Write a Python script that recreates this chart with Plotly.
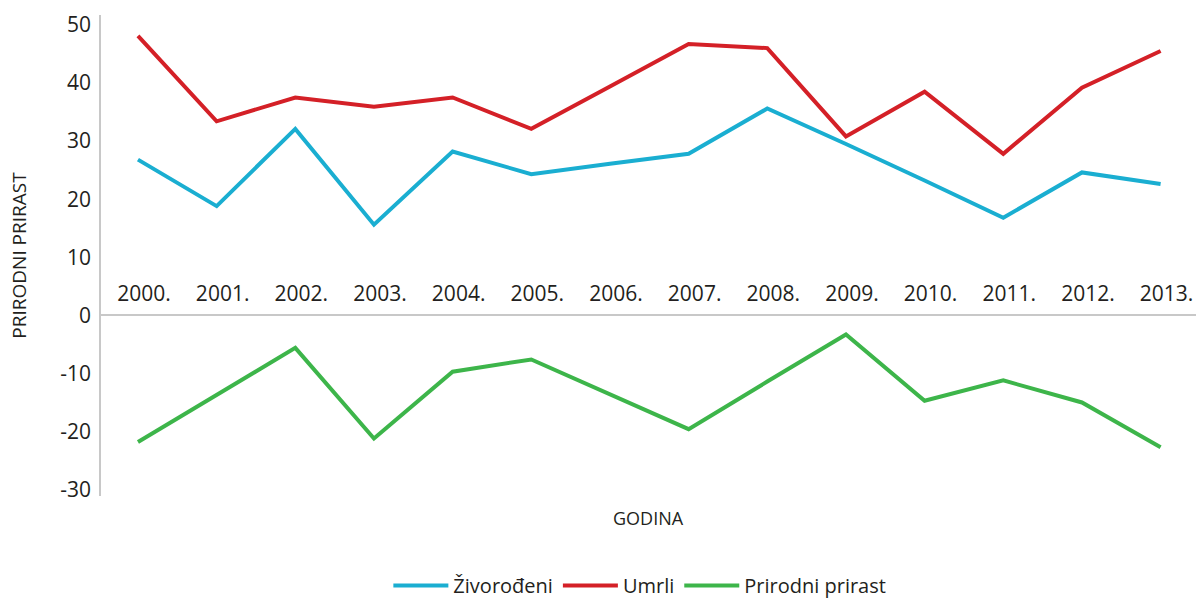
import plotly.graph_objects as go

years = ["2000.", "2001.", "2002.", "2003.", "2004.", "2005.", "2006.",
         "2007.", "2008.", "2009.", "2010.", "2011.", "2012.", "2013."]
zivorodjeni = [26.8, 18.8, 32.1, 15.6, 28.2, 24.3, 26.1, 27.8, 35.6, 29.5, 23.2, 16.8, 24.6, 22.6]
umrli = [48.1, 33.4, 37.5, 35.9, 37.5, 32.1, 39.4, 46.7, 46.0, 30.8, 38.5, 27.8, 39.2, 45.5]
prirodni_prirast = [-21.8, -13.7, -5.6, -21.2, -9.7, -7.6, -13.6, -19.6, -11.4, -3.3, -14.7, -11.2, -15.0, -22.7]
y_ticks = [-30, -20, -10, 0, 10, 20, 30, 40, 50]
y_tick_labels = ["-30", "-20", "-10", "0", "10", "20", "30", "40", "50"]

series = [
    ("Živorođeni", zivorodjeni, "#1aaed1"),
    ("Umrli", umrli, "#d42027"),
    ("Prirodni prirast", prirodni_prirast, "#3db54a"),
]

FONT = "Open Sans"
TXT = "#231f20"

fig = go.Figure()
xs = list(range(len(years)))
for name, vals, color in series:
    fig.add_trace(go.Scatter(x=xs, y=vals, mode="lines", name=name,
                             line=dict(color=color, width=4)))

ymin, ymax = -31.1, 51.7
zero_pos = (0 - ymin) / (ymax - ymin)

fig.update_layout(
    width=1196, height=598,
    margin=dict(l=101, r=0, t=15, b=102),
    paper_bgcolor="white", plot_bgcolor="white",
    font=dict(family=FONT, color=TXT, size=18),
    showlegend=True,
    legend=dict(orientation="h", xref="container", yref="container",
                x=0.535, xanchor="center", y=1 - 566 / 598, yanchor="top",
                itemwidth=55,
                font=dict(size=20, family=FONT, color=TXT)),
    xaxis=dict(
        range=[-0.47, 13.45],
        tickmode="array", tickvals=xs, ticktext=years,
        side="top", anchor="free", position=zero_pos,
        showline=True, linecolor="#c8c8c8", linewidth=1.5,
        showgrid=False, zeroline=False, automargin=False,
        ticks="", tickfont=dict(size=21, family=FONT, color=TXT),
        ticklabelshift=6, ticklabelstandoff=5,
    ),
    yaxis=dict(
        range=[ymin, ymax],
        tickmode="array", tickvals=y_ticks, ticktext=y_tick_labels,
        showline=True, linecolor="#c8c8c8", linewidth=1.5,
        showgrid=False, zeroline=False, automargin=False,
        ticks="", tickfont=dict(size=21, family=FONT, color=TXT),
        ticklabelstandoff=4,
        title=dict(text="PRIRODNI PRIRAST", standoff=29,
                   font=dict(size=19, family=FONT, color=TXT)),
    ),
    annotations=[dict(text="GODINA", xref="paper", yref="paper",
                      x=0.5, y=-0.045, xanchor="center", yanchor="middle",
                      showarrow=False, font=dict(size=18, family=FONT, color=TXT))],
)

fig.write_html("out.html", config={"displayModeBar": False},
               post_script="document.body.style.margin='0';")
